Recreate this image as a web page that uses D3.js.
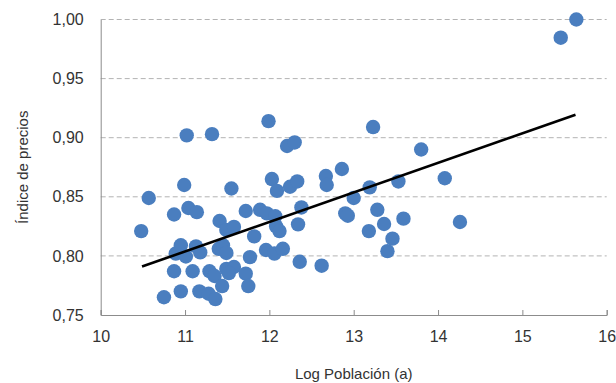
<!DOCTYPE html>
<html>
<head>
<meta charset="utf-8">
<script src="https://cdn.jsdelivr.net/npm/d3@7"></script>
<style>
  body { margin: 0; background: #fff; }
  text { font-family: "Liberation Sans", Arial, sans-serif; fill: #333; }
</style>
</head>
<body>
<svg id="chart" width="616" height="383"></svg>
<script>
// log poblacion (x) and price index (y)
var logPob = [10.48, 10.57, 10.75, 10.87, 10.87, 10.89, 10.95, 10.95, 10.99, 11.01,
              11.02, 11.04, 11.09, 11.13, 11.14, 11.17, 11.18, 11.28, 11.29, 11.32,
              11.35, 11.36, 11.40, 11.41, 11.45, 11.49, 11.44, 11.49, 11.49, 11.58,
              11.52, 11.58, 11.55, 11.72, 11.72, 11.75, 11.77, 11.82, 11.89, 11.97,
              12.07, 12.08, 12.12, 11.96, 12.06, 12.16, 11.99, 12.03, 12.09, 12.21,
              12.30, 12.245, 12.33, 12.34, 12.38, 12.36, 12.62, 12.67, 12.68, 12.86,
              12.90, 12.93, 13.00, 13.23, 13.19, 13.18, 13.28, 13.36, 13.40, 13.46,
              13.53, 13.59, 13.80, 14.08, 14.26, 15.455, 15.64];
var indice = [0.821, 0.849, 0.765, 0.835, 0.787, 0.802, 0.809, 0.770, 0.860, 0.7995,
              0.902, 0.8405, 0.787, 0.808, 0.837, 0.770, 0.803, 0.768, 0.787, 0.903,
              0.783, 0.7635, 0.806, 0.8295, 0.809, 0.8025, 0.7745, 0.822, 0.789, 0.7906,
              0.7855, 0.8245, 0.857, 0.838, 0.785, 0.7745, 0.799, 0.8165, 0.839, 0.836,
              0.8335, 0.825, 0.821, 0.805, 0.802, 0.806, 0.914, 0.865, 0.855, 0.893,
              0.896, 0.8585, 0.863, 0.8267, 0.841, 0.795, 0.7917, 0.8676, 0.860, 0.8735,
              0.836, 0.834, 0.849, 0.909, 0.858, 0.821, 0.839, 0.827, 0.804, 0.8146,
              0.863, 0.8315, 0.890, 0.8657, 0.8287, 0.9846, 1.000];

// trend line ends
var trendX = [10.49, 15.63];
var trendY = [0.791, 0.9195];

var xTicks = [10, 11, 12, 13, 14, 15, 16];
var yTicks = [0.75, 0.80, 0.85, 0.90, 0.95, 1.00];

var margin = {top: 19.5, right: 9.3, bottom: 68, left: 100.7};
var width = 616 - margin.left - margin.right;
var height = 383 - margin.top - margin.bottom;

var svg = d3.select('#chart');
var g = svg.append('g')
    .attr('transform', 'translate(' + margin.left + ',' + margin.top + ')');

var x = d3.scaleLinear().domain([10, 16]).range([0, width]);
var y = d3.scaleLinear().domain([0.75, 1.0]).range([height, 0]);

var fmt = function (d) { return d3.format('.2f')(d).replace('.', ','); };

// grid lines
g.append('g')
    .selectAll('line')
    .data(yTicks.slice(1))
    .enter()
    .append('line')
    .attr('x1', 0)
    .attr('x2', width)
    .attr('y1', function (d) { return y(d); })
    .attr('y2', function (d) { return y(d); })
    .style('stroke', '#b3b3b3')
    .style('stroke-width', 1)
    .style('stroke-dasharray', '5,3');

// y axis
var yAxis = g.append('g')
    .call(d3.axisLeft(y).tickValues(yTicks).tickFormat(fmt).tickSize(0).tickPadding(17));
yAxis.select('.domain').style('stroke', '#8c8c8c');
yAxis.selectAll('text')
    .style('font-size', '16px')
    .style('fill', '#333');

// x axis, ticks pointing inwards
var xAxis = g.append('g')
    .attr('transform', 'translate(0,' + height + ')')
    .call(d3.axisBottom(x).tickValues(xTicks).tickFormat(d3.format('d')).tickSize(-5).tickPadding(16));
xAxis.select('.domain').style('stroke', '#8c8c8c');
xAxis.selectAll('.tick line').style('stroke', '#8c8c8c');
xAxis.selectAll('text')
    .style('font-size', '16px')
    .style('fill', '#333');

// points
var pts = logPob.map(function (v, i) { return {x: v, y: indice[i]}; });
g.append('g')
    .selectAll('circle')
    .data(pts)
    .enter()
    .append('circle')
    .attr('cx', function (d) { return x(d.x); })
    .attr('cy', function (d) { return y(d.y); })
    .attr('r', 7.2)
    .style('fill', '#4a7ebf');

// trend line
g.append('line')
    .attr('x1', x(trendX[0]))
    .attr('y1', y(trendY[0]))
    .attr('x2', x(trendX[1]))
    .attr('y2', y(trendY[1]))
    .style('stroke', '#000')
    .style('stroke-width', 2.6);

// axis titles
svg.append('text')
    .attr('x', margin.left + width / 2)
    .attr('y', 379)
    .attr('text-anchor', 'middle')
    .style('font-size', '15px')
    .text('Log Población (a)');

svg.append('text')
    .attr('transform', 'translate(28,' + (margin.top + height / 2) + ') rotate(-90)')
    .attr('text-anchor', 'middle')
    .style('font-size', '15px')
    .text('Índice de precios');
</script>
</body>
</html>
